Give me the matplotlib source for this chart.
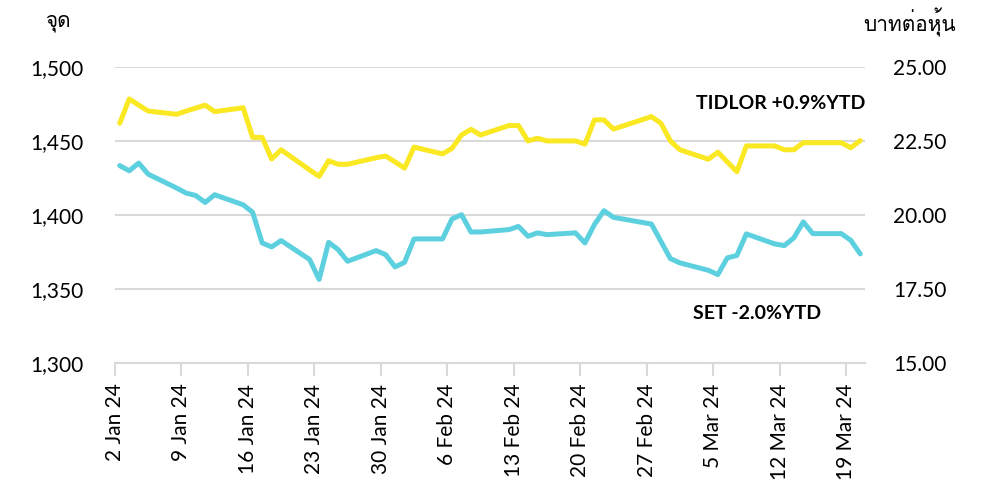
import matplotlib
matplotlib.use('Agg')
import matplotlib.pyplot as plt
import matplotlib.dates as mdates
from matplotlib import font_manager
import pandas as pd
from matplotlib.ticker import FuncFormatter

# trading days (26 Feb 24 is a market holiday)
dates = ['2024-01-02', '2024-01-03', '2024-01-04', '2024-01-05', '2024-01-08',
         '2024-01-09', '2024-01-10', '2024-01-11', '2024-01-12', '2024-01-15',
         '2024-01-16', '2024-01-17', '2024-01-18', '2024-01-19', '2024-01-22',
         '2024-01-23', '2024-01-24', '2024-01-25', '2024-01-26', '2024-01-29',
         '2024-01-30', '2024-01-31', '2024-02-01', '2024-02-02', '2024-02-05',
         '2024-02-06', '2024-02-07', '2024-02-08', '2024-02-09', '2024-02-12',
         '2024-02-13', '2024-02-14', '2024-02-15', '2024-02-16', '2024-02-19',
         '2024-02-20', '2024-02-21', '2024-02-22', '2024-02-23', '2024-02-27',
         '2024-02-28', '2024-02-29', '2024-03-01', '2024-03-04', '2024-03-05',
         '2024-03-06', '2024-03-07', '2024-03-08', '2024-03-11', '2024-03-12',
         '2024-03-13', '2024-03-14', '2024-03-15', '2024-03-18', '2024-03-19',
         '2024-03-20']

set_index = [1433.3, 1429.8, 1435.0, 1427.5, 1418.1, 1414.7, 1413.1, 1408.4,
             1413.6, 1406.8, 1401.7, 1381.0, 1378.3, 1382.6, 1369.8, 1356.3,
             1381.4, 1376.5, 1368.6, 1375.8, 1373.1, 1364.8, 1367.9, 1383.7,
             1383.7, 1397.2, 1400.1, 1388.4, 1388.4, 1390.0, 1392.2, 1385.5,
             1387.8, 1386.6, 1387.8, 1381.0, 1393.4, 1402.8, 1398.3, 1393.8,
             1382.1, 1370.4, 1367.5, 1362.5, 1359.6, 1370.9, 1372.5, 1387.1,
             1380.3, 1379.2, 1384.4, 1395.2, 1387.3, 1387.3, 1382.8, 1373.6]

tidlor = [23.10, 23.92, 23.71, 23.51, 23.40, 23.51, 23.61, 23.71, 23.49, 23.62,
          22.62, 22.62, 21.89, 22.20, 21.52, 21.30, 21.83, 21.71, 21.71, 21.93,
          21.99, 21.79, 21.58, 22.29, 22.06, 22.25, 22.70, 22.89, 22.70, 23.02,
          23.02, 22.50, 22.59, 22.50, 22.50, 22.39, 23.21, 23.21, 22.90, 23.32,
          23.10, 22.50, 22.20, 21.88, 22.12, 21.79, 21.46, 22.33, 22.33, 22.20,
          22.20, 22.44, 22.44, 22.44, 22.27, 22.51]

left_ticks = [1300, 1350, 1400, 1450, 1500]
right_ticks = [15.0, 17.5, 20.0, 22.5, 25.0]

# pick a font that has Thai glyphs
thai_font = None
for f in font_manager.fontManager.ttflist:
    try:
        ft = matplotlib.ft2font.FT2Font(f.fname)
        if ord('จ') in ft.get_charmap():
            thai_font = f.name
            break
    except Exception:
        pass

fams = ['Lato', 'DejaVu Sans']
if thai_font:
    fams = ['Lato', thai_font, 'DejaVu Sans']
plt.rcParams['font.family'] = fams

# points sit in the middle of each day
x = pd.to_datetime(dates) + pd.Timedelta(hours=12)

fig = plt.figure(figsize=(9.87, 4.98), dpi=100)
ax = fig.add_axes([0.1165, 0.2717, 0.7599, 0.5938])
ax2 = ax.twinx()

ax.plot(x, set_index, color='#5dd0df', lw=3.6, solid_capstyle='round', zorder=3)
ax2.plot(x, tidlor, color='#f9e822', lw=3.6, solid_capstyle='round', zorder=3)

ax.set_ylim(1300, 1500)
ax2.set_ylim(15, 25)
ax.set_yticks(left_ticks)
ax2.set_yticks(right_ticks)
ax.yaxis.set_major_formatter(FuncFormatter(lambda v, p: '{:,.0f}'.format(v)))
ax2.yaxis.set_major_formatter(FuncFormatter(lambda v, p: '{:.2f}'.format(v)))

ax.set_xlim(pd.Timestamp('2024-01-02'), pd.Timestamp('2024-03-21'))
ax.set_xticks(pd.date_range('2024-01-02', '2024-03-19', freq='7D'))
ax.xaxis.set_major_formatter(mdates.DateFormatter('%-d %b %y'))
plt.setp(ax.get_xticklabels(), rotation=90)

ax.grid(axis='y', color='#d9d9d9', lw=1.5)
ax.set_axisbelow(True)
for a in (ax, ax2):
    for s in a.spines.values():
        s.set_visible(False)
ax.spines['bottom'].set_visible(True)
ax.spines['bottom'].set_color('#d9d9d9')
ax.spines['bottom'].set_linewidth(1.5)

ax.tick_params(axis='x', length=9, width=1.5, colors='#d9d9d9', labelcolor='black',
               labelsize=15, pad=6)
ax.tick_params(axis='y', length=0, labelsize=15, pad=23)
ax2.tick_params(axis='y', length=0, labelsize=15, pad=20)

fig.text(0.0588, 0.955, 'จุด', fontsize=15, ha='center', va='center')
fig.text(0.922, 0.955, 'บาทต่อหุ้น', fontsize=15, ha='center', va='center')

ax.text(1.0, 0.875, 'TIDLOR +0.9%YTD', transform=ax.transAxes, ha='right',
        va='center', fontsize=14, fontweight='bold')
ax.text(0.771, 0.167, 'SET -2.0%YTD', transform=ax.transAxes, ha='left',
        va='center', fontsize=14, fontweight='bold')

fig.savefig('out.png', dpi=100)
